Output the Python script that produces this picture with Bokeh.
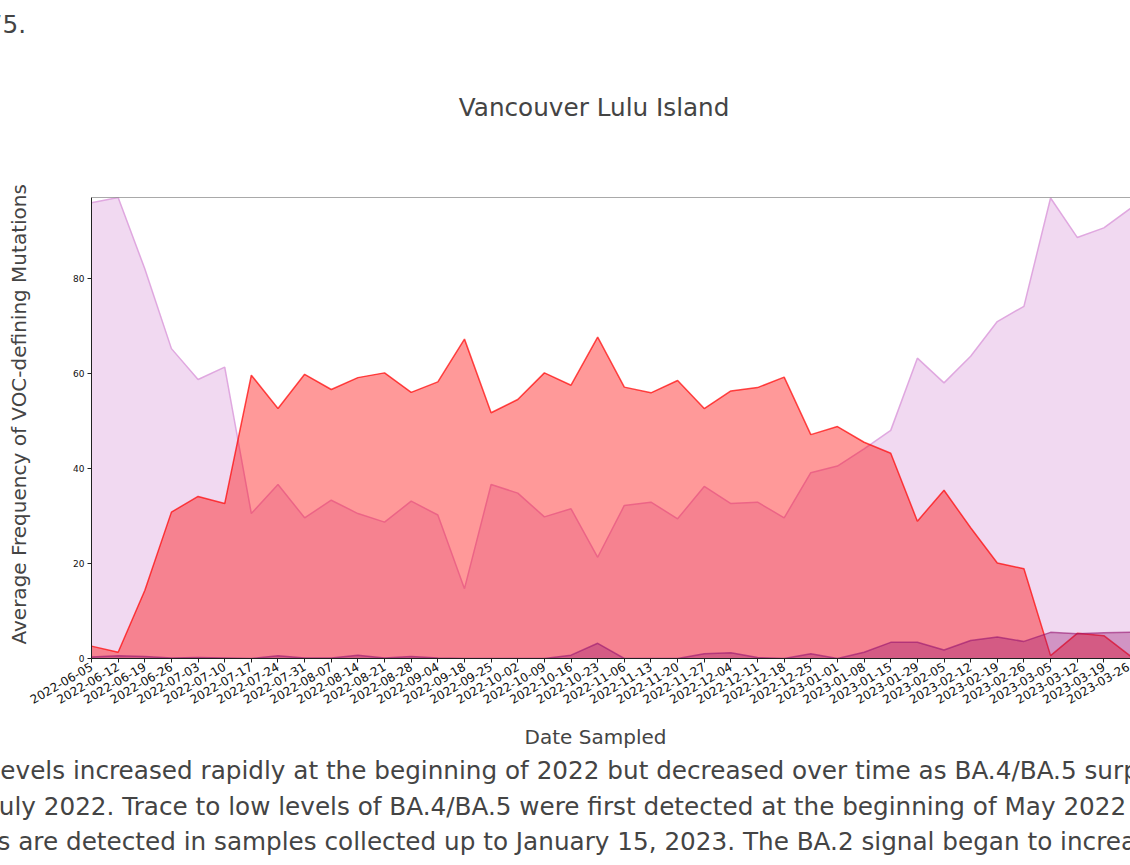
import math
from bokeh.plotting import figure
from bokeh.models import Range1d, FixedTicker, Span, Title
from bokeh.embed import file_html
from bokeh.resources import INLINE

# ---------------- data ----------------
dates = [
    "2022-06-05", "2022-06-12", "2022-06-19", "2022-06-26", "2022-07-03", "2022-07-10",
    "2022-07-17", "2022-07-24", "2022-07-31", "2022-08-07", "2022-08-14", "2022-08-21",
    "2022-08-28", "2022-09-04", "2022-09-18", "2022-09-25", "2022-10-02", "2022-10-09",
    "2022-10-16", "2022-10-23", "2022-11-06", "2022-11-13", "2022-11-20", "2022-11-27",
    "2022-12-04", "2022-12-11", "2022-12-18", "2022-12-25", "2023-01-01", "2023-01-08",
    "2023-01-15", "2023-01-29", "2023-02-05", "2023-02-12", "2023-02-19", "2023-02-26",
    "2023-03-05", "2023-03-12", "2023-03-19", "2023-03-26",
]
ba2 = [95.9, 97.0, 82.0, 65.2, 58.7, 61.3, 30.5, 36.6, 29.6, 33.3,
       30.5, 28.7, 33.1, 30.2, 14.7, 36.6, 34.8, 29.8, 31.5, 21.3,
       32.2, 32.9, 29.4, 36.2, 32.6, 32.9, 29.6, 39.1, 40.5, 44.1,
       48.0, 63.2, 58.0, 63.6, 70.9, 74.1, 96.9, 88.6, 90.6, 94.7]
ba45 = [2.6, 1.3, 14.3, 30.8, 34.1, 32.6, 59.6, 52.6, 59.8, 56.6,
        59.1, 60.1, 56.0, 58.2, 67.2, 51.7, 54.5, 60.1, 57.5, 67.6,
        57.1, 55.9, 58.5, 52.6, 56.3, 57.0, 59.2, 47.1, 48.8, 45.5,
        43.2, 28.9, 35.4, 27.5, 20.1, 18.9, 0.6, 5.3, 4.8, 0.5]
other = [0.3, 0.6, 0.4, 0.1, 0.2, 0.1, 0.0, 0.6, 0.1, 0.1,
         0.7, 0.1, 0.4, 0.1, 0.0, 0.0, 0.0, 0.0, 0.7, 3.2,
         0.0, 0.0, 0.0, 1.0, 1.2, 0.2, 0.0, 1.0, 0.0, 1.3,
         3.4, 3.4, 1.8, 3.8, 4.5, 3.6, 5.5, 5.2, 5.4, 5.5]
y_ticks = [0, 20, 40, 60, 80]

title_text = "Vancouver Lulu Island"
x_label = "Date Sampled"
y_label = "Average Frequency of VOC-defining Mutations"
top_fragment = "75."
para_lines = [
    "levels increased rapidly at the beginning of 2022 but decreased over time as BA.4/BA.5 surp",
    "July 2022. Trace to low levels of BA.4/BA.5 were first detected at the beginning of May 2022",
    "s are detected in samples collected up to January 15, 2023. The BA.2 signal began to increa",
]

xs = list(range(len(dates)))
Y_MAX = 97.0
FONT = "DejaVu Sans"

# ---------------- figure ----------------
W, H = 1130, 865
p = figure(width=W, height=H, title=None,
           x_range=Range1d(0, len(dates) - 1), y_range=Range1d(0, Y_MAX),
           output_backend="svg", toolbar_location=None,
           min_border_left=91, min_border_right=0, min_border_top=197, min_border_bottom=207)
p.outline_line_color = None
p.grid.visible = False
p.background_fill_color = "white"
p.border_fill_color = "white"

# overlapping translucent areas
p.varea(x=xs, y1=0, y2=ba2, fill_color="plum", fill_alpha=0.4)
p.line(xs, ba2, line_color="plum", line_alpha=0.9, line_width=1.5)
p.varea(x=xs, y1=0, y2=ba45, fill_color="red", fill_alpha=0.4)
p.line(xs, ba45, line_color="red", line_alpha=0.7, line_width=1.5)
p.varea(x=xs, y1=0, y2=other, fill_color="#961470", fill_alpha=0.35)
p.line(xs, other, line_color="#961470", line_alpha=0.6, line_width=1.5)

# top spine
p.add_layout(Span(location=Y_MAX, dimension="width", line_color="#555555", line_width=1))

# axes
xa = p.xaxis[0]
xa.ticker = FixedTicker(ticks=xs)
xa.major_label_overrides = {i: d for i, d in enumerate(dates)}
xa.major_label_orientation = math.pi / 6
xa.major_label_text_font = FONT
xa.major_label_text_font_size = "12px"
xa.major_label_text_color = "#111111"
xa.major_label_standoff = 3
xa.major_tick_in = 0
xa.major_tick_out = 4
xa.minor_tick_line_color = None
xa.axis_line_color = "#222222"
xa.major_tick_line_color = "#222222"

ya = p.yaxis[0]
ya.ticker = FixedTicker(ticks=y_ticks)
ya.major_label_text_font = FONT
ya.major_label_text_font_size = "9px"
ya.major_label_text_color = "#111111"
ya.major_label_standoff = 3
ya.major_tick_in = 0
ya.major_tick_out = 4
ya.minor_tick_line_color = None
ya.axis_line_color = "#222222"
ya.major_tick_line_color = "#222222"


def title(text, size, standoff, offset=0.0):
    return Title(text=text, text_font=FONT, text_font_size=size, text_font_style="normal",
                 text_color="#444444", align="left", vertical_align="middle",
                 standoff=standoff, offset=offset)


def spacer(standoff):
    return Title(text=" ", text_font=FONT, text_font_size="6px", text_font_style="normal",
                 text_color="#ffffff", standoff=standoff)


# above (nearest to the frame first)
p.add_layout(spacer(65.7), "above")
p.add_layout(title(title_text, "24.7px", 0, 367.3), "above")
p.add_layout(spacer(49.2), "above")
p.add_layout(title(top_fragment, "24.7px", 0, -104.7), "above")

# below (after the x axis, nearest first)
p.add_layout(spacer(0.0), "below")
p.add_layout(title(x_label, "20px", 6.06, 433.1), "below")
para_standoffs = [4.91, 3.59, 4.91]
para_offsets = [-98, -100, -94]
for line, so, off in zip(para_lines, para_standoffs, para_offsets):
    p.add_layout(title(line, "24.7px", so, off), "below")

# left (after the y axis)
p.add_layout(spacer(30.0), "left")
p.add_layout(title(y_label, "20px", 0, 14), "left")

open("out.html", "w").write(file_html(p, INLINE))
